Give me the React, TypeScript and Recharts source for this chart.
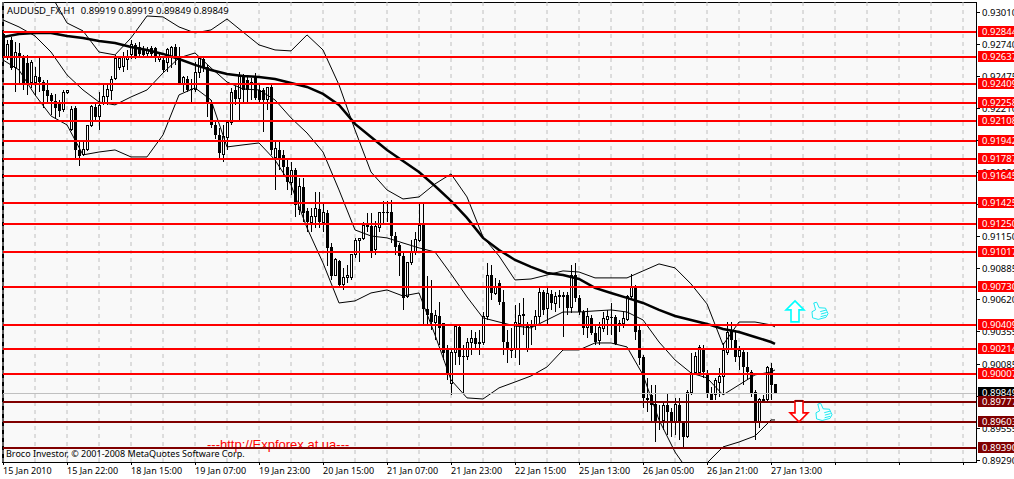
import { Bar, CartesianGrid, ComposedChart, Line, ReferenceDot, ReferenceLine, XAxis, YAxis } from 'recharts';

const FONT = '"Noto Sans", sans-serif';
const BAR_SLOTS = 244;

const opens = [
  0.92828, 0.92629, 0.92778, 0.92546, 0.9267, 0.92629, 0.92587, 0.92421, 0.92429, 0.92471, 0.92429, 0.92363, 0.92322, 0.92272, 0.92263, 0.92197,
  0.92338, 0.92031, 0.92214, 0.91865, 0.91824, 0.91865, 0.92064, 0.92222, 0.92139, 0.92255, 0.92305, 0.92355, 0.92454, 0.92546, 0.92554, 0.92612,
  0.92654, 0.92737, 0.9272, 0.92695, 0.92662, 0.92712, 0.92712, 0.92612, 0.92612, 0.92587, 0.92629, 0.9272, 0.92637, 0.92413, 0.92454, 0.92371,
  0.92363, 0.92512, 0.9262, 0.92554, 0.92255, 0.92073, 0.9199, 0.91824, 0.91965, 0.92097, 0.92363, 0.92288, 0.92471, 0.92446, 0.92413, 0.92471,
  0.92363, 0.92363, 0.9228, 0.92388, 0.91799, 0.91865, 0.91824, 0.91724, 0.91599, 0.91699, 0.91367, 0.91558, 0.91359, 0.91267, 0.91309, 0.91375,
  0.91267, 0.91342, 0.9106, 0.90827, 0.90944, 0.90745, 0.90803, 0.90803, 0.90994, 0.9111, 0.91126, 0.91242, 0.91234, 0.91035, 0.91218, 0.9135,
  0.9135, 0.9135, 0.91151, 0.91077, 0.90985, 0.90645, 0.90927, 0.9101, 0.9111, 0.91242, 0.90545, 0.90512, 0.90437, 0.90487, 0.90429, 0.90205,
  0.89923, 0.9018, 0.90396, 0.90155, 0.90147, 0.90263, 0.90305, 0.90263, 0.90271, 0.90479, 0.90827, 0.9067, 0.90761, 0.90603, 0.90271, 0.90197,
  0.90205, 0.90421, 0.90504, 0.90213, 0.90404, 0.90413, 0.90479, 0.90686, 0.90545, 0.9067, 0.90587, 0.90645, 0.90662, 0.90662, 0.90554, 0.90827,
  0.90637, 0.9052, 0.90388, 0.90471, 0.90346, 0.9028, 0.90379, 0.90454, 0.90479, 0.90479, 0.90429, 0.90421, 0.90454, 0.90645, 0.90728, 0.90371,
  0.90147, 0.89807, 0.89832, 0.89757, 0.89616, 0.89616, 0.89749, 0.8969, 0.89599, 0.89749, 0.89599, 0.89483, 0.89848, 0.90022, 0.90022, 0.90222,
  0.90014, 0.89848, 0.89832, 0.89939, 0.89981, 0.90188, 0.90371, 0.90288, 0.90147, 0.90188, 0.90064, 0.90022, 0.89856, 0.89607, 0.89782, 0.8979,
  0.90056, 0.89919,
];
const highs = [
  0.92844, 0.92778, 0.92803, 0.92761, 0.92753, 0.92654, 0.92654, 0.92612, 0.92554, 0.92629, 0.92446, 0.92446, 0.92338, 0.9233, 0.9228, 0.92363,
  0.92355, 0.9223, 0.9223, 0.91948, 0.91931, 0.92073, 0.92239, 0.92255, 0.92346, 0.92405, 0.92421, 0.92479, 0.92654, 0.92645, 0.92678, 0.92695,
  0.92778, 0.92753, 0.92761, 0.92728, 0.9272, 0.92728, 0.9272, 0.9267, 0.92637, 0.92712, 0.92728, 0.92745, 0.9272, 0.92479, 0.92479, 0.92454,
  0.92595, 0.92637, 0.92637, 0.92571, 0.9228, 0.92097, 0.92048, 0.92073, 0.92114, 0.9238, 0.92396, 0.92512, 0.92496, 0.92471, 0.92463, 0.92504,
  0.92413, 0.9238, 0.92388, 0.92405, 0.91948, 0.91948, 0.91865, 0.91782, 0.91765, 0.91716, 0.91633, 0.91633, 0.91384, 0.91384, 0.91516, 0.91516,
  0.91425, 0.91367, 0.91093, 0.90969, 0.90952, 0.90886, 0.90911, 0.90994, 0.91135, 0.91135, 0.91267, 0.91342, 0.91342, 0.91276, 0.9135, 0.91442,
  0.91442, 0.9145, 0.91184, 0.91093, 0.91018, 0.90935, 0.91118, 0.91184, 0.91425, 0.91433, 0.90819, 0.90786, 0.90537, 0.90603, 0.90429, 0.90247,
  0.90222, 0.90413, 0.90413, 0.90247, 0.90305, 0.90371, 0.90354, 0.90371, 0.9052, 0.90927, 0.90911, 0.90803, 0.90786, 0.90703, 0.90371, 0.90388,
  0.90579, 0.90595, 0.90637, 0.90437, 0.90454, 0.90537, 0.9072, 0.90703, 0.9072, 0.90703, 0.90686, 0.90703, 0.90686, 0.90686, 0.90911, 0.90927,
  0.90662, 0.90537, 0.90554, 0.90496, 0.90413, 0.90437, 0.9052, 0.90537, 0.90595, 0.90496, 0.90454, 0.9052, 0.90662, 0.90836, 0.90745, 0.90413,
  0.90164, 0.89973, 0.89915, 0.89915, 0.89749, 0.89774, 0.89848, 0.89724, 0.89807, 0.89807, 0.89607, 0.89873, 0.9018, 0.90188, 0.90247, 0.90247,
  0.90039, 0.89898, 0.89973, 0.90056, 0.90263, 0.90437, 0.90437, 0.90371, 0.90238, 0.90205, 0.90188, 0.90039, 0.89873, 0.89807, 0.89832, 0.90072,
  0.90097, 0.89919,
];
const lows = [
  0.92595, 0.92612, 0.92529, 0.92346, 0.92421, 0.92363, 0.92322, 0.9238, 0.92322, 0.92346, 0.92214, 0.92255, 0.92156, 0.92131, 0.92139, 0.9218,
  0.9233, 0.92023, 0.91782, 0.91732, 0.91815, 0.91857, 0.92056, 0.92097, 0.92031, 0.92239, 0.92239, 0.9228, 0.92446, 0.92529, 0.92512, 0.92529,
  0.9262, 0.9262, 0.92629, 0.92629, 0.92629, 0.92637, 0.92595, 0.92595, 0.92504, 0.92512, 0.92546, 0.92571, 0.92405, 0.92346, 0.92346, 0.92247,
  0.92346, 0.92463, 0.92512, 0.92139, 0.92048, 0.91956, 0.91799, 0.91765, 0.91865, 0.92073, 0.92239, 0.92114, 0.92263, 0.92255, 0.9228, 0.9228,
  0.92247, 0.92014, 0.92197, 0.91824, 0.91533, 0.91699, 0.91658, 0.91533, 0.91492, 0.91309, 0.91326, 0.91267, 0.91184, 0.91184, 0.91218, 0.91218,
  0.91184, 0.90902, 0.90786, 0.90819, 0.90728, 0.90703, 0.90761, 0.90786, 0.90969, 0.90935, 0.91118, 0.91184, 0.90969, 0.90994, 0.91184, 0.91259,
  0.91267, 0.91093, 0.90994, 0.90819, 0.90537, 0.90637, 0.90911, 0.90994, 0.91101, 0.90413, 0.90413, 0.90371, 0.90288, 0.90247, 0.90122, 0.89956,
  0.89832, 0.90081, 0.90081, 0.89848, 0.90122, 0.90164, 0.90222, 0.90164, 0.90247, 0.90454, 0.9062, 0.90662, 0.90579, 0.90164, 0.90097, 0.90139,
  0.90139, 0.90081, 0.9033, 0.90188, 0.90247, 0.90371, 0.90429, 0.90496, 0.90413, 0.90537, 0.9052, 0.90554, 0.90313, 0.90496, 0.90512, 0.90603,
  0.90496, 0.9033, 0.90305, 0.9033, 0.90247, 0.90247, 0.90354, 0.9033, 0.9033, 0.90247, 0.90354, 0.90388, 0.90446, 0.9062, 0.90288, 0.90081,
  0.89724, 0.8969, 0.89607, 0.89441, 0.89541, 0.89541, 0.895, 0.89483, 0.895, 0.89458, 0.89392, 0.89475, 0.89832, 0.89998, 0.89998, 0.89973,
  0.89807, 0.8979, 0.8979, 0.89815, 0.89832, 0.90164, 0.90205, 0.90105, 0.90039, 0.89915, 0.89956, 0.89815, 0.89458, 0.89558, 0.89774, 0.89782,
  0.8979, 0.89849,
];
const closes = [
  0.92629, 0.92737, 0.92546, 0.9267, 0.92629, 0.92421, 0.92421, 0.92587, 0.92471, 0.92429, 0.92355, 0.92313, 0.92272, 0.92214, 0.92189, 0.92346,
  0.92355, 0.92197, 0.91865, 0.91815, 0.91865, 0.92064, 0.92222, 0.92139, 0.9223, 0.92305, 0.92363, 0.92446, 0.9262, 0.9262, 0.92629, 0.92629,
  0.92737, 0.92645, 0.92662, 0.92654, 0.92695, 0.92662, 0.92645, 0.92637, 0.92529, 0.92695, 0.92712, 0.92637, 0.92421, 0.92463, 0.92363, 0.92363,
  0.92512, 0.9262, 0.92554, 0.92263, 0.92073, 0.9199, 0.9184, 0.91973, 0.92089, 0.92346, 0.92288, 0.92471, 0.92363, 0.92363, 0.92429, 0.92297,
  0.9228, 0.9228, 0.9238, 0.91865, 0.91873, 0.91799, 0.91724, 0.91599, 0.91691, 0.91409, 0.91558, 0.91342, 0.91267, 0.91309, 0.91375, 0.91267,
  0.9135, 0.91052, 0.90819, 0.90952, 0.90745, 0.90803, 0.90827, 0.90994, 0.9111, 0.91126, 0.91242, 0.91226, 0.91018, 0.91226, 0.9135, 0.91342,
  0.91342, 0.91151, 0.9106, 0.90985, 0.90637, 0.90927, 0.9101, 0.91118, 0.91242, 0.90545, 0.90496, 0.90437, 0.90487, 0.90388, 0.9018, 0.89998,
  0.9018, 0.90396, 0.90147, 0.90147, 0.90271, 0.90296, 0.90255, 0.90271, 0.90479, 0.90819, 0.90678, 0.90728, 0.90603, 0.90271, 0.90205, 0.90213,
  0.90429, 0.90487, 0.90487, 0.90396, 0.90396, 0.90479, 0.90686, 0.90537, 0.9067, 0.90595, 0.90645, 0.90653, 0.90645, 0.90554, 0.90827, 0.90637,
  0.9052, 0.90388, 0.90479, 0.90346, 0.90271, 0.90388, 0.90462, 0.90479, 0.90471, 0.90255, 0.90421, 0.90462, 0.90645, 0.90728, 0.90354, 0.90139,
  0.89807, 0.8979, 0.89749, 0.89599, 0.89607, 0.8974, 0.8969, 0.89607, 0.89749, 0.89599, 0.89483, 0.89848, 0.89998, 0.90147, 0.90222, 0.90022,
  0.89848, 0.8979, 0.89948, 0.89981, 0.90197, 0.90346, 0.90288, 0.90147, 0.90197, 0.90064, 0.90022, 0.89848, 0.89607, 0.8979, 0.8979, 0.90056,
  0.89915, 0.89849,
];

// the last value belongs to the newest bar
const maLine = [
  0.92803, 0.92828, 0.92836, 0.92836, 0.92811, 0.92795, 0.9277, 0.92753, 0.9272, 0.92695, 0.92662, 0.9262, 0.92571, 0.92529, 0.92496, 0.92479,
  0.92471, 0.92454, 0.92421, 0.92388, 0.9233, 0.92239, 0.92081, 0.91973, 0.91865, 0.91774, 0.91682, 0.91566, 0.91442, 0.91301, 0.91135, 0.91035,
  0.90952, 0.90894, 0.90844, 0.90827, 0.90794, 0.9072, 0.90678, 0.90637, 0.90595, 0.90537, 0.90487, 0.90454, 0.90421, 0.90379, 0.90354, 0.90313,
  0.90271, 0.90255,
];
const upperBand = [
  null, null, null, 0.93152, 0.92919, 0.92853, 0.92678, 0.92654, 0.92795, 0.92977, 0.92969, 0.92886, 0.92836, 0.92861, 0.92952, 0.92844,
  0.92737, 0.92695, 0.92687, 0.9282, 0.92695, 0.92405, 0.92031, 0.91682, 0.91533, 0.91458, 0.91475, 0.91583, 0.91666, 0.91475, 0.91143, 0.90985,
  0.90786, 0.90794, 0.90827, 0.90861, 0.90852, 0.90803, 0.90803, 0.90803, 0.90861, 0.90919, 0.90886, 0.90753, 0.90587, 0.90247, 0.90437, 0.90437,
  0.90413, 0.90396,
];
const middleBand = [
  0.92944, 0.92886, 0.92811, 0.92678, 0.92488, 0.92363, 0.92263, 0.92239, 0.92305, 0.92363, 0.92504, 0.92629, 0.9267, 0.92546, 0.92429, 0.92371,
  0.92363, 0.9228, 0.92131, 0.92006, 0.91848, 0.91533, 0.91201, 0.91151, 0.91135, 0.91093, 0.91052, 0.91018, 0.90836, 0.90645, 0.90471, 0.90437,
  0.90404, 0.90388, 0.90454, 0.9052, 0.9052, 0.90529, 0.90537, 0.9052, 0.90454, 0.90271, 0.90122, 0.90014, 0.89973, 0.89832, 0.89915, 0.89998,
  0.90022, 0.90039,
];
const lowerBand = [
  0.92612, 0.92529, 0.92322, 0.92147, 0.92073, 0.91824, 0.91848, 0.91865, 0.91807, 0.91807, 0.9199, 0.92322, 0.9238, 0.9228, 0.9189, 0.91907,
  0.91923, 0.91782, 0.91575, 0.91218, 0.90927, 0.90595, 0.90612, 0.90678, 0.90703, 0.90653, 0.90678, 0.9033, 0.89956, 0.89807, 0.89798, 0.8989,
  0.89939, 0.89989, 0.90064, 0.90205, 0.90205, 0.90263, 0.90263, 0.9023, 0.89998, 0.89624, 0.89358, 0.89168, 0.89267, 0.894, 0.89441, 0.89491,
  0.89624, 0.89624,
];

const priceTicks = [0.9301, 0.9274, 0.92475, 0.9221, 0.91945, 0.9168, 0.91415, 0.9115, 0.90885, 0.9062, 0.90355, 0.90085, 0.8982, 0.89555, 0.8929];
const timeLabels = [
  '15 Jan 2010', '15 Jan 22:00', '18 Jan 15:00', '19 Jan 07:00', '19 Jan 23:00', '20 Jan 15:00', '21 Jan 07:00',
  '21 Jan 23:00', '22 Jan 15:00', '25 Jan 13:00', '26 Jan 05:00', '26 Jan 21:00', '27 Jan 13:00',
];
const redLevels = [0.92844, 0.92637, 0.92409, 0.92258, 0.92108, 0.91942, 0.91787, 0.91645, 0.91425, 0.9125, 0.91017, 0.9073, 0.90409, 0.90214, 0.90007];
const darkLevels = [0.89777, 0.89603, 0.8939];
const lastPrice = 0.89849;

const sparse = (arr: (number | null)[], i: number) => {
  if (i === opens.length - 1) return arr[arr.length - 1];
  return i % 4 === 0 ? arr[i / 4] : null;
};

const chartData = Array.from({ length: BAR_SLOTS }, (_, i) =>
  i < opens.length
    ? {
        i,
        range: [lows[i], highs[i]],
        o: opens[i],
        h: highs[i],
        l: lows[i],
        c: closes[i],
        ma: sparse(maLine, i),
        upper: sparse(upperBand, i),
        middle: sparse(middleBand, i),
        lower: sparse(lowerBand, i),
      }
    : { i },
);

const gridTicks = chartData.filter((d) => d.i % 8 === 0 && d.i <= 240).map((d) => d.i);

function Candle(props: any) {
  const { x, y, width, height, payload } = props;
  if (payload.o === undefined) return null;
  const cx = Math.round(x + width / 2);
  const perUnit = height / (payload.h - payload.l);
  const top = y + (payload.h - Math.max(payload.o, payload.c)) * perUnit;
  const bodyH = Math.max(Math.abs(payload.o - payload.c) * perUnit, 1);
  const up = payload.c > payload.o;
  return (
    <g shapeRendering="crispEdges">
      <line x1={cx + 0.5} x2={cx + 0.5} y1={y} y2={y + height} stroke="#000" />
      {up ? (
        <rect x={cx - 0.5} y={top} width={2} height={bodyH} fill="#fff" stroke="#000" />
      ) : (
        <rect x={cx - 1} y={top} width={3} height={bodyH} fill="#000" />
      )}
    </g>
  );
}

// price labels go through ReferenceLine so the level badges can cover them, the axis layer would sit on top
const priceTickShape = (value: number) => (p: any) => (
  <g>
    <line x1={976} x2={980} y1={p.y1} y2={p.y1} stroke="#000" shapeRendering="crispEdges" />
    <text x={982} y={p.y1 + 3.5} fontSize={9.5} fontFamily={FONT} fill="#000">
      {value.toFixed(5)}
    </text>
  </g>
);

function TimeTick({ x, y, payload }: any) {
  if (payload.value % 16 !== 0) return null;
  return (
    <g>
      <line x1={x + 0.5} x2={x + 0.5} y1={462} y2={465} stroke="#000" />
      <text x={x} y={474} fontSize={9} fontFamily={FONT} fill="#000">
        {timeLabels[payload.value / 16]}
      </text>
    </g>
  );
}

const levelShape = (value: number, lineColor: string, badge: string, width = 2) => (p: any) => {
  const y = Math.round(p.y1);
  return (
    <g>
      <line x1={3} x2={976} y1={y} y2={y} stroke={lineColor} strokeWidth={width} shapeRendering="crispEdges" />
      <rect x={978} y={y - 6} width={36} height={11} fill={badge} />
      <text x={982} y={y + 3} fontSize={9.5} fontFamily={FONT} fill="#fff">
        {value.toFixed(5)}
      </text>
    </g>
  );
};

const arrowShape = (up: boolean) => (p: any) => {
  const s = up ? 1 : -1;
  const d = `M0 ${-11 * s} L9 ${-2 * s} L4 ${-2 * s} L4 ${10 * s} L-4 ${10 * s} L-4 ${-2 * s} L-9 ${-2 * s} Z`;
  return (
    <g transform={`translate(${p.cx},${p.cy})`}>
      <path d={d} fill="#fff" stroke={up ? '#00ffff' : '#ff0000'} strokeWidth={1.6} />
      {!up && <line x1={-4} x2={4} y1={-10} y2={-10} stroke="#800000" strokeWidth={2} />}
    </g>
  );
};

const handShape = (p: any) => (
  <g transform={`translate(${p.cx},${p.cy}) rotate(-15)`} fill="#f4ffff" stroke="#00e5ee" strokeWidth={0.8}>
    <path d="M-7 -1 L-3 -2 L-3 -9 L0 -9 L1 -3 L7 -1 L8 5 L5 8 L-3 8 L-8 5 Z" />
    <path d="M1 1 L7 1 M1 3.5 L7 3.5 M0 6 L6 6" />
  </g>
);

export default function App() {
  return (
    <div style={{ position: 'absolute', left: 0, top: 0, width: 1014, height: 479, background: '#fff', overflow: 'hidden' }}>
      <div
        style={{
          position: 'absolute',
          left: 2,
          top: 2,
          width: 975,
          height: 461,
          boxSizing: 'border-box',
          borderLeft: '2px solid #000',
          borderRight: '1px solid #000',
          borderTop: '1px solid #000',
          borderBottom: '1px solid #000',
          background: '#f9f9f9',
        }}
      />
      <ComposedChart
        width={1014}
        height={479}
        data={chartData}
        margin={{ top: 2, right: 0, bottom: 0, left: 1 }}
        barCategoryGap={0}
        style={{ position: 'absolute', left: 0, top: 0 }}
      >
        <CartesianGrid stroke="#c0c0c0" strokeDasharray="4 4" x={3} width={973} syncWithTicks />
        <XAxis dataKey="i" type="category" ticks={gridTicks} interval={0} height={17} axisLine={false} tickLine={false} tick={<TimeTick />} />
        <YAxis
          orientation="right"
          type="number"
          domain={[0.89275, 0.93093]}
          allowDataOverflow
          ticks={priceTicks}
          width={37}
          axisLine={false}
          tickLine={false}
          interval={0}
          tick={false}
        />
        <Bar dataKey="range" shape={<Candle />} isAnimationActive={false} />
        <Line dataKey="upper" stroke="#000" strokeWidth={1} dot={false} connectNulls isAnimationActive={false} />
        <Line dataKey="middle" stroke="#000" strokeWidth={1} dot={false} connectNulls isAnimationActive={false} />
        <Line dataKey="lower" stroke="#000" strokeWidth={1} dot={false} connectNulls isAnimationActive={false} />
        <Line dataKey="ma" stroke="#000" strokeWidth={2.5} dot={false} connectNulls isAnimationActive={false} />
        {priceTicks.map((v) => (
          <ReferenceLine key={v} y={v} shape={priceTickShape(v)} />
        ))}
        <ReferenceLine y={lastPrice} shape={levelShape(lastPrice, '#c0c0c0', '#000', 1)} />
        {redLevels.map((v) => (
          <ReferenceLine key={v} y={v} shape={levelShape(v, '#ff0000', '#ff0000')} />
        ))}
        {darkLevels.map((v) => (
          <ReferenceLine key={v} y={v} shape={levelShape(v, '#800000', '#800000')} />
        ))}
        <ReferenceDot x={198} y={0.90521} shape={arrowShape(true)} />
        <ReferenceDot x={199} y={0.89699} shape={arrowShape(false)} />
        <ReferenceDot x={204} y={0.90529} shape={handShape} />
        <ReferenceDot x={205} y={0.8969} shape={handShape} />
        <text x={7} y={14} fontSize={9.5} fontFamily={FONT} fill="#000" xmlSpace="preserve">
          AUDUSD_FX,H1  0.89919 0.89919 0.89849 0.89849
        </text>
        <text x={6} y={457} fontSize={9} fontFamily={FONT} fill="#000">
          Broco Investor, © 2001-2008 MetaQuotes Software Corp.
        </text>
        <text x={207} y={449} fontSize={13} fontFamily='"Liberation Sans", sans-serif' fill="#ff0000">
          ---http://Expforex.at.ua---
        </text>
      </ComposedChart>
    </div>
  );
}
